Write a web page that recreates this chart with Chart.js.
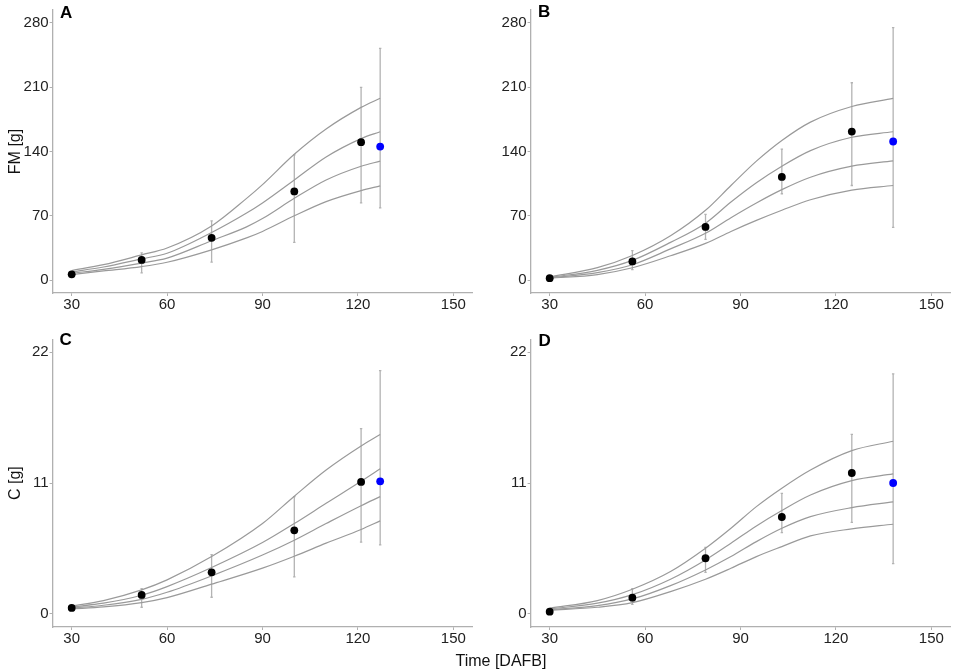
<!DOCTYPE html>
<html><head><meta charset="utf-8">
<script src="https://cdn.jsdelivr.net/npm/chart.js@4.4.0/dist/chart.umd.min.js"></script>
<style>
html,body{margin:0;padding:0;background:#fff;}
body{width:957px;height:670px;overflow:hidden;position:relative;font-family:"Liberation Sans",Arial,sans-serif;}
.pane{position:absolute;}
.lbl{position:absolute;font-weight:bold;font-size:17px;line-height:17px;color:#000;}
#xtitle{position:absolute;left:501px;top:653.4px;transform:translateX(-50%);font-size:16px;line-height:16px;color:#111;white-space:nowrap;}
</style></head><body>
<div class="pane" style="left:0;top:0;width:478px;height:320px"><canvas id="cA" width="478" height="320"></canvas></div>
<div class="pane" style="left:478px;top:0;width:479px;height:320px"><canvas id="cB" width="479" height="320"></canvas></div>
<div class="pane" style="left:0;top:320px;width:478px;height:334px"><canvas id="cC" width="478" height="334"></canvas></div>
<div class="pane" style="left:478px;top:320px;width:479px;height:334px"><canvas id="cD" width="479" height="334"></canvas></div>
<div class="lbl" style="left:60px;top:4px">A</div>
<div class="lbl" style="left:538px;top:3px">B</div>
<div class="lbl" style="left:59.5px;top:331px">C</div>
<div class="lbl" style="left:538.5px;top:331.5px">D</div>
<div id="xtitle">Time [DAFB]</div>
<script>
// ---------- tick labels ----------
const xTicks = [30, 60, 90, 120, 150];
const fmTicks = [0, 70, 140, 210, 280];
const cTicks = [0, 11, 22];

// ---------- Panel A (FM) ----------
const timeA = [30, 52, 74, 100, 121];
const meanA = [6.3, 22, 46, 96.5, 150.2];
const lowA  = [4.5, 7.9, 19.7, 41.1, 84];
const highA = [8, 29.7, 64.5, 136.3, 209.8];
const blueA = {t: 127, y: 145.4, lo: 78.7, hi: 252.3};
const curveXA = [30, 40, 52, 60, 74, 85, 90, 100, 110, 121, 127];
const curveA1 = [10.5, 16.8, 27.5, 35, 59, 89, 104, 137, 164.5, 188, 198];
const curveA2 = [9, 14.3, 23.2, 29.3, 51.8, 73, 84, 109, 134, 154, 161.5];
const curveA3 = [7.5, 11.8, 18.6, 24, 42.9, 58, 67, 89, 109, 124, 129.5];
const curveA4 = [6, 10, 14.8, 19.5, 33, 46, 53, 70, 85.5, 97.5, 102.6];

// ---------- Panel B (FM) ----------
const timeB = [30, 56, 79, 103, 125];
const meanB = [2.1, 20.4, 57.9, 112.3, 161.7];
const lowB  = [1, 11.4, 44.3, 94, 103];
const highB = [3.2, 32.2, 71.5, 142.5, 214.8];
const blueB = {t: 138, y: 150.9, lo: 57.5, hi: 274.8};
const curveXB = [30, 45, 56, 68, 79, 87, 95, 103, 112, 125, 138];
const curveB1 = [3.5, 13.6, 26.8, 48.3, 76, 103, 129.5, 152, 172, 189, 197.8];
const curveB2 = [3, 10.7, 21.5, 41.1, 62, 85, 106, 124, 141, 155.5, 161.5];
const curveB3 = [2.5, 8.2, 16.8, 34, 51, 68, 84, 98.5, 112, 124, 129.8];
const curveB4 = [2, 6.1, 13.5, 26.5, 40, 53, 65, 76, 87.5, 98, 103];

// ---------- Panel C (C) ----------
const timeC = [30, 52, 74, 100, 121];
const meanC = [0.5, 1.6, 3.5, 7.03, 11.1];
const lowC  = [0.4, 0.56, 1.4, 3.11, 6.03];
const highC = [0.6, 2.13, 4.99, 9.86, 15.58];
const blueC = {t: 127, y: 11.15, lo: 5.8, hi: 20.45};
const curveXC = [30, 40, 52, 60, 74, 90, 100, 110, 121, 127];
const curveC1 = [0.67, 1.12, 2.02, 2.86, 4.82, 7.6, 9.9, 12.1, 14.12, 15.08];
const curveC2 = [0.59, 0.9, 1.57, 2.3, 3.9, 6.0, 7.6, 9.3, 11.15, 12.2];
const curveC3 = [0.5, 0.73, 1.23, 1.82, 3.2, 4.95, 6.2, 7.6, 9.1, 9.86];
const curveC4 = [0.42, 0.59, 0.95, 1.37, 2.5, 3.85, 4.85, 5.95, 7.1, 7.82];

// ---------- Panel D (C) ----------
const timeD = [30, 56, 79, 103, 125];
const meanD = [0.19, 1.37, 4.68, 8.15, 11.85];
const lowD  = [0.1, 0.81, 3.5, 6.84, 7.7];
const highD = [0.28, 2.13, 5.6, 10.14, 15.1];
const blueD = {t: 138, y: 11.01, lo: 4.23, hi: 20.18};
const curveXD = [30, 45, 56, 68, 79, 87, 95, 103, 112, 125, 138];
const curveD1 = [0.48, 1.12, 2.07, 3.56, 5.52, 7.2, 9.02, 10.57, 12.1, 13.73, 14.52];
const curveD2 = [0.42, 0.9, 1.62, 2.92, 4.54, 5.94, 7.4, 8.7, 10.0, 11.21, 11.77];
const curveD3 = [0.36, 0.7, 1.26, 2.38, 3.7, 4.82, 6.08, 7.2, 8.18, 8.94, 9.42];
const curveD4 = [0.31, 0.56, 0.95, 1.88, 2.92, 3.84, 4.82, 5.66, 6.56, 7.15, 7.54];

const FONT = '"Liberation Sans", Arial, sans-serif';
const AXIS = '#b0b0b0';

const errorBars = {
  id: 'errorBars',
  beforeDatasetsDraw(chart) {
    const {ctx, scales: {x, y}} = chart;
    ctx.save();
    ctx.strokeStyle = '#b3b3b3';
    ctx.lineWidth = 1.3;
    chart.data.datasets.forEach(ds => {
      if (!ds.errLow) return;
      ds.data.forEach((p, i) => {
        const px = x.getPixelForValue(p.x);
        const y1 = y.getPixelForValue(ds.errLow[i]);
        const y2 = y.getPixelForValue(ds.errHigh[i]);
        ctx.beginPath();
        ctx.moveTo(px, y1); ctx.lineTo(px, y2);
        ctx.moveTo(px - 1.2, y1); ctx.lineTo(px + 1.2, y1);
        ctx.moveTo(px - 1.2, y2); ctx.lineTo(px + 1.2, y2);
        ctx.stroke();
      });
    });
    ctx.restore();
  }
};

function panel(id, c) {
  const datasets = [
    {type: 'scatter', data: [{x: c.blue.t, y: c.blue.y}], errLow: [c.blue.lo], errHigh: [c.blue.hi],
     backgroundColor: '#0000ff', borderColor: '#0000ff', borderWidth: 0, pointRadius: 3.9, order: 0},
    {type: 'scatter', data: c.time.map((t, i) => ({x: t, y: c.mean[i]})), errLow: c.low, errHigh: c.high,
     backgroundColor: '#000', borderColor: '#000', borderWidth: 0, pointRadius: 3.9, order: 1}
  ];
  c.curves.forEach((cv, k) => datasets.push({
    type: 'line', data: c.curveX.map((x, i) => ({x: x, y: cv[i]})),
    borderColor: '#9a9a9a', borderWidth: 1.2, pointRadius: 0, fill: false,
    cubicInterpolationMode: 'monotone', order: 2 + k
  }));
  new Chart(document.getElementById(id), {
    data: {datasets},
    plugins: [errorBars],
    options: {
      responsive: false, animation: false, devicePixelRatio: 1,
      layout: {padding: {top: c.pt, right: c.pr, left: 0, bottom: 0}},
      plugins: {legend: {display: false}, tooltip: {enabled: false}},
      scales: {
        x: {
          type: 'linear', min: 24, max: 156,
          afterBuildTicks: s => { s.ticks = xTicks.map(v => ({value: v})); },
          afterFit: s => { s.height = 27; },
          ticks: {font: {size: 15, family: FONT}, color: '#222', padding: 0, maxRotation: 0, autoSkip: false},
          grid: {drawOnChartArea: false, tickLength: 3, color: AXIS, lineWidth: 1},
          border: {color: AXIS, width: 1.3}
        },
        y: {
          type: 'linear', min: c.ymin, max: c.ymax,
          afterBuildTicks: s => { s.ticks = c.yTicks.map(v => ({value: v})); },
          afterFit: s => { s.width = c.yw; },
          ticks: {font: {size: 15, family: FONT}, color: '#222', padding: 1, autoSkip: false},
          grid: {drawOnChartArea: false, tickLength: 3, color: AXIS, lineWidth: 1},
          border: {color: AXIS, width: 1.3},
          title: {display: !!c.ytitle, text: c.ytitle || '', font: {size: 16, family: FONT}, color: '#111', padding: {top: 5.7, bottom: 0}}
        }
      }
    }
  });
}

panel('cA', {time: timeA, mean: meanA, low: lowA, high: highA, blue: blueA, curveX: curveXA,
  curves: [curveA1, curveA2, curveA3, curveA4], ymin: -14, ymax: 294, yTicks: fmTicks,
  ytitle: 'FM [g]', yw: 52.6, pt: 6, pr: 5.6});
panel('cB', {time: timeB, mean: meanB, low: lowB, high: highB, blue: blueB, curveX: curveXB,
  curves: [curveB1, curveB2, curveB3, curveB4], ymin: -14, ymax: 294, yTicks: fmTicks,
  ytitle: '', yw: 52.6, pt: 6, pr: 6.6});
panel('cC', {time: timeC, mean: meanC, low: lowC, high: highC, blue: blueC, curveX: curveXC,
  curves: [curveC1, curveC2, curveC3, curveC4], ymin: -1.1, ymax: 23.1, yTicks: cTicks,
  ytitle: 'C [g]', yw: 52.6, pt: 19.2, pr: 5.6});
panel('cD', {time: timeD, mean: meanD, low: lowD, high: highD, blue: blueD, curveX: curveXD,
  curves: [curveD1, curveD2, curveD3, curveD4], ymin: -1.1, ymax: 23.1, yTicks: cTicks,
  ytitle: '', yw: 52.6, pt: 19.2, pr: 6.6});
</script>
</body></html>
